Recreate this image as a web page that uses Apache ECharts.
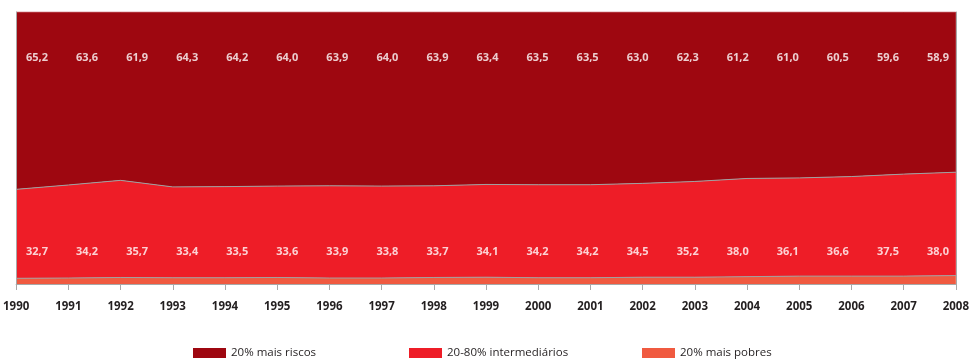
<!DOCTYPE html>
<html>
<head>
<meta charset="utf-8">
<script src="https://cdn.jsdelivr.net/npm/echarts@6/dist/echarts.min.js"></script>
<style>html,body{margin:0;padding:0;background:#fff}#c{width:972px;height:359px}</style>
</head>
<body>
<div id="c"></div>
<script>
var years = ['1990','1991','1992','1993','1994','1995','1996','1997','1998','1999','2000','2001','2002','2003','2004','2005','2006','2007','2008'];
// shares as drawn in the picture (area thickness)
var topShare = [65.2,63.6,61.9,64.3,64.2,64.0,63.9,64.0,63.9,63.4,63.5,63.5,63.0,62.3,61.2,61.0,60.5,59.6,58.9];
var midShare = [32.7,34.2,35.7,33.4,33.5,33.6,33.9,33.8,33.7,34.1,34.2,34.2,34.5,35.2,36.1,36.1,36.6,37.5,38.0];
var lowShare = [2.1,2.2,2.4,2.3,2.3,2.4,2.2,2.2,2.4,2.5,2.3,2.3,2.5,2.5,2.7,2.9,2.9,2.9,3.1];
// value labels printed on the chart (text as printed)
var topLabels = ['65,2','63,6','61,9','64,3','64,2','64,0','63,9','64,0','63,9','63,4','63,5','63,5','63,0','62,3','61,2','61,0','60,5','59,6','58,9'];
var midLabels = ['32,7','34,2','35,7','33,4','33,5','33,6','33,9','33,8','33,7','34,1','34,2','34,2','34,5','35,2','38,0','36,1','36,6','37,5','38,0'];
var names = ['20% mais riscos','20-80% intermediários','20% mais pobres'];
var colors = ['#9e0710','#ee1d27','#f05a40'];

var FONT = 'Open Sans';

var chart = echarts.init(document.getElementById('c'), null, {renderer:'canvas'});
var legendBase = {
  top: 342, itemWidth: 33, itemHeight: 10, icon: 'rect',
  textStyle: {fontFamily: FONT, fontSize: 11.5, color: '#231f20'},
  selectedMode: false
};
chart.setOption({
  animation: false,
  grid: [
    {left: 16, right: 15, top: 12, bottom: 75},
    {left: 12, right: 9, top: 12, bottom: 75}
  ],
  legend: [
    Object.assign({}, legendBase, {left: 188, data: [names[0]]}),
    Object.assign({}, legendBase, {left: 404, data: [names[1]]}),
    Object.assign({}, legendBase, {left: 637, data: [names[2]]})
  ],
  xAxis: [
    {type: 'category', gridIndex: 0, data: years, boundaryGap: false,
     axisLine: {show: true, lineStyle: {color: '#a8a8a8'}},
     axisTick: {show: true, length: 6, interval: 0, lineStyle: {color: '#a8a8a8'}},
     axisLabel: {interval: 0, margin: 17, fontFamily: FONT, fontWeight: 'bold', fontSize: 11.5, color: '#231f20'},
     splitLine: {show: false}, z: 5},
    {type: 'category', gridIndex: 1, data: years, boundaryGap: true, show: false}
  ],
  yAxis: [
    {type: 'value', gridIndex: 0, min: 0, max: 100, position: 'left',
     axisLine: {show: true, lineStyle: {color: '#a8a8a8'}}, axisTick: {show: false},
     axisLabel: {show: false}, splitLine: {show: false}, z: 5},
    {type: 'value', gridIndex: 1, min: 0, max: 100, show: false},
    {type: 'value', gridIndex: 0, min: 0, max: 100, position: 'right',
     axisLine: {show: true, lineStyle: {color: '#a8a8a8'}}, axisTick: {show: false},
     axisLabel: {show: false}, splitLine: {show: false}, z: 5}
  ],
  series: [
    {name: names[2], type: 'line', stack: 's', xAxisIndex: 0, yAxisIndex: 0, data: lowShare,
     symbol: 'none', color: colors[2], lineStyle: {color: '#a0a0a0', width: 1},
     areaStyle: {color: colors[2], opacity: 1}, silent: true},
    {name: names[1], type: 'line', stack: 's', xAxisIndex: 0, yAxisIndex: 0, data: midShare,
     symbol: 'none', color: colors[1], lineStyle: {color: '#a0a0a0', width: 1},
     areaStyle: {color: colors[1], opacity: 1}, silent: true},
    {name: names[0], type: 'line', stack: 's', xAxisIndex: 0, yAxisIndex: 0, data: topShare,
     symbol: 'none', color: colors[0], lineStyle: {color: '#c0565c', width: 1},
     areaStyle: {color: colors[0], opacity: 1}, silent: true},
    {type: 'scatter', xAxisIndex: 1, yAxisIndex: 1, symbolSize: 0, silent: true, z: 10,
     data: topLabels.map(function(v, i){ return [i, 100]; }),
     label: {show: true, position: 'inside', offset: [0, 45.5],
       formatter: function(p){ return topLabels[p.dataIndex]; },
       color: '#fff', fontFamily: FONT, fontWeight: 'bold', fontSize: 11}},
    {type: 'scatter', xAxisIndex: 1, yAxisIndex: 1, symbolSize: 0, silent: true, z: 10,
     data: midLabels.map(function(v, i){ return [i, 0]; }),
     label: {show: true, position: 'inside', offset: [0, -32],
       formatter: function(p){ return midLabels[p.dataIndex]; },
       color: '#fff', fontFamily: FONT, fontWeight: 'bold', fontSize: 11}}
  ]
});
</script>
</body>
</html>
